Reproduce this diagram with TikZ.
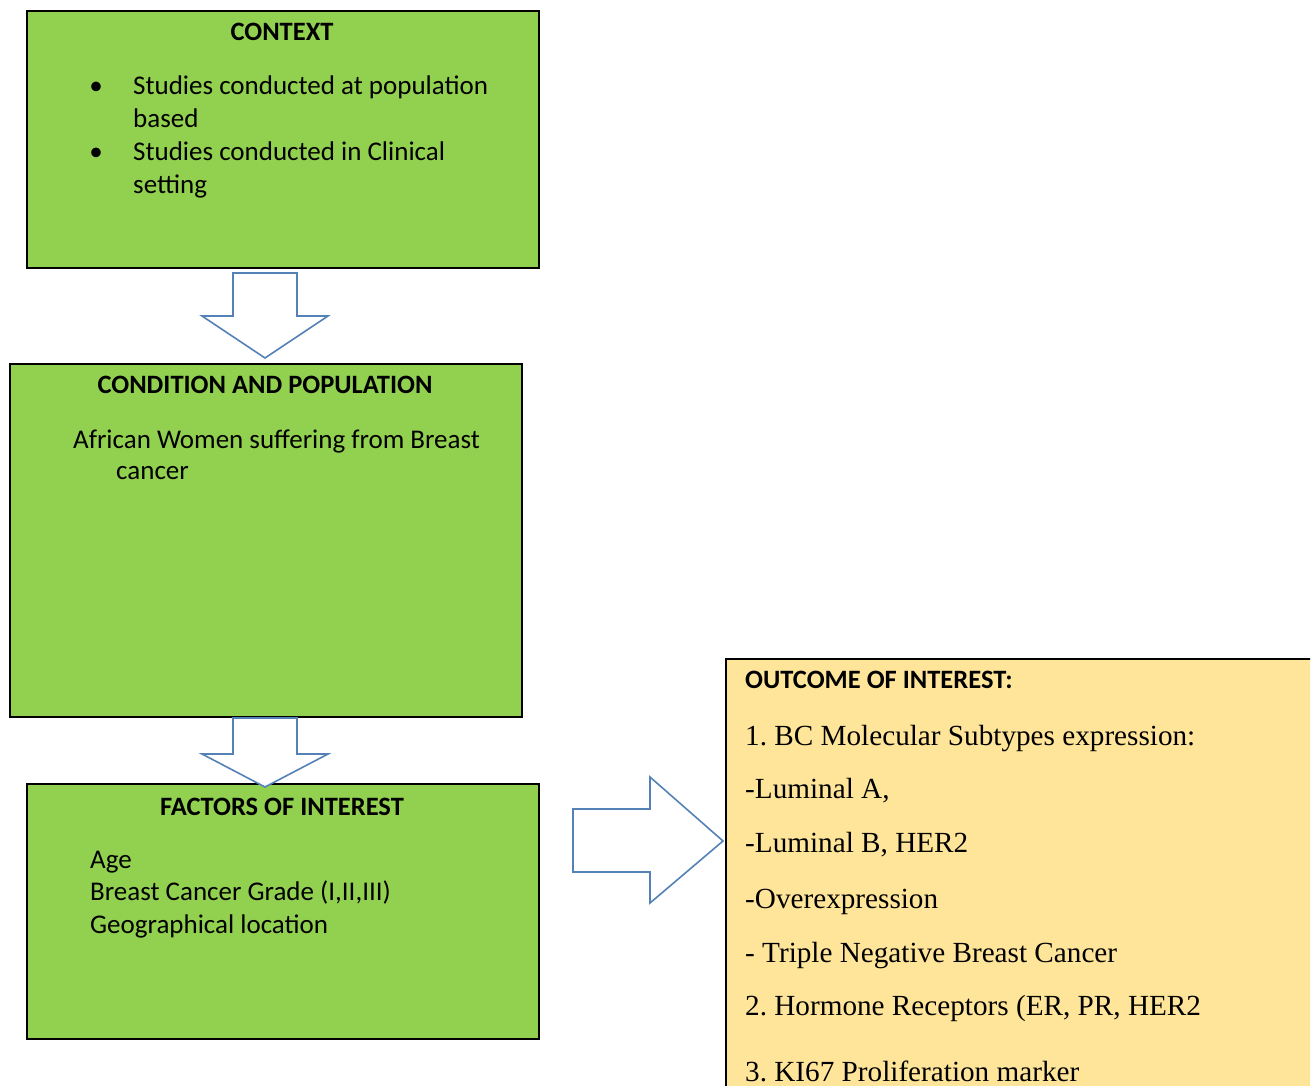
\documentclass[tikz,border=0pt]{standalone}
\usepackage{fontspec}
\setmainfont{Liberation Serif}
\setsansfont{Carlito}
\usetikzlibrary{positioning}
\definecolor{mygreen}{RGB}{146,208,80}
\definecolor{myyellow}{RGB}{255,229,153}
\definecolor{myblue}{RGB}{84,130,182}
\frenchspacing

\tikzset{
	greenbox/.style={rectangle, draw=black, line width=1.8pt, fill=mygreen, anchor=north west, inner sep=0pt},
	yellowbox/.style={rectangle, draw=black, line width=1.8pt, fill=myyellow, anchor=north west, inner sep=0pt},
	sanstext/.style={anchor=base west, inner sep=0pt, font=\sffamily\fontsize{27}{30}\selectfont},
	headtext/.style={anchor=base, inner sep=0pt, font=\sffamily\bfseries\fontsize{26.5}{30}\selectfont},
	serftext/.style={anchor=base west, inner sep=0pt, font=\rmfamily\fontsize{29.2}{32}\selectfont},
	blockarrow/.style={draw=myblue, line width=1.6pt, fill=white, line join=miter}
}

\begin{document}
\begin{tikzpicture}[x=1pt, y=-1pt]

\useasboundingbox (0,0) rectangle (1315,1086);
\clip (0,0) rectangle (1310,1086);

%----------BOXES-------------%
\node[greenbox, minimum width=512, minimum height=257] (context) at (26,10) {};
\node[greenbox, minimum width=512, minimum height=353] (condition) at (9,363) {};
\node[greenbox, minimum width=512, minimum height=255] (factors) at (26,783) {};
\node[yellowbox, minimum width=640, minimum height=460] (outcome) at (725,658) {};

%----------CONTEXT-------------%
\node[headtext] (ctxhead) at (282,41) {CONTEXT};
\node[sanstext, anchor=base] (bul1) at (96,95) {\textbullet};
\node[sanstext, anchor=base] (bul2) at (96,161) {\textbullet};
\node[sanstext] (ctx1) at (133,95) {Studies conducted at population};
\node[sanstext] (ctx2) at (133,128) {based};
\node[sanstext] (ctx3) at (133,161) {Studies conducted in Clinical};
\node[sanstext] (ctx4) at (133,194) {setting};

%----------CONDITION-------------%
\node[headtext] (condhead) at (265,393) {CONDITION AND POPULATION};
\node[sanstext] (cond1) at (73,448) {African Women suffering from Breast};
\node[sanstext] (cond2) at (116,479) {cancer};

%----------FACTORS-------------%
\node[headtext] (facthead) at (282,815) {FACTORS OF INTEREST};
\node[sanstext] (fact1) at (90,868) {Age};
\node[sanstext] (fact2) at (90,900) {Breast Cancer Grade (I,II,III)};
\node[sanstext] (fact3) at (90,933) {Geographical location};

%----------OUTCOME-------------%
\node[headtext, anchor=base west] (outhead) at (745,688) {OUTCOME OF INTEREST:};
\foreach \y/\t [count=\i] in {745/{1. BC Molecular Subtypes expression:},
	798/{-Luminal A,},
	852/{-Luminal B, HER2},
	908/{-Overexpression},
	962/{- Triple Negative Breast Cancer},
	1015/{2. Hormone Receptors (ER, PR, HER2},
	1081/{3. KI67 Proliferation marker}}{
	\node[serftext] (out\i) at (745,\y) {\t};
};

%----------ARROWS-------------%
\draw[blockarrow] (233,273) -- (297,273) -- (297,316) -- (328,316) -- (265,358)
	-- (202,316) -- (233,316) -- cycle;
\draw[blockarrow] (233,718) -- (297,718) -- (297,754) -- (328,754) -- (265,787)
	-- (202,754) -- (233,754) -- cycle;
\draw[blockarrow] (573,809) -- (650,809) -- (650,777) -- (723,841) -- (650,903)
	-- (650,872) -- (573,872) -- cycle;

\end{tikzpicture}
\end{document}
